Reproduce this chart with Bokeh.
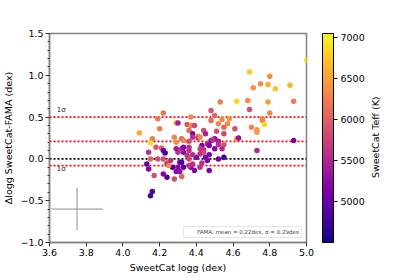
import math
from bokeh.plotting import figure
from bokeh.layouts import row
from bokeh.models import (ColumnDataSource, LinearColorMapper, ColorBar, FixedTicker,
                          Legend, LegendItem, Label, Range1d)
from bokeh.palettes import Plasma256
from bokeh.embed import file_html
from bokeh.resources import INLINE

# ---- data ----
logg = [5.00, 4.69, 4.80, 4.75, 4.79, 4.71, 4.83, 4.91, 4.53, 4.62, 4.68, 4.79, 4.93, 4.69, 4.80,
        4.48, 4.50, 4.22, 4.19, 4.20, 4.09, 4.37, 4.29, 4.30, 4.35, 4.37, 4.39, 4.36, 4.38, 4.41,
        4.44, 4.45, 4.48, 4.52, 4.54, 4.58, 4.57, 4.55, 4.51, 4.55, 4.61, 4.70, 4.73, 4.73, 4.76,
        4.76, 4.77, 4.62, 4.63, 4.93, 4.73, 4.16, 4.15, 4.14, 4.18, 4.21, 4.22, 4.23, 4.15, 4.19,
        4.22, 4.13, 4.14, 4.17, 4.24, 4.24, 4.22, 4.24, 4.28, 4.32, 4.16, 4.15, 4.28, 4.29, 4.32,
        4.33, 4.36, 4.38, 4.41, 4.42, 4.46, 4.48, 4.50, 4.52, 4.52, 4.55, 4.54, 4.50, 4.47, 4.43,
        4.44, 4.42, 4.40, 4.45, 4.47, 4.46, 4.52, 4.55, 4.47, 4.43, 4.42, 4.39, 4.37, 4.36, 4.33,
        4.31, 4.30, 4.27, 4.29, 4.31, 4.33, 4.30, 4.29, 4.32, 4.35, 4.36, 4.36, 4.38, 4.38, 4.32,
        4.26, 4.25, 4.36, 4.33, 4.43, 4.42, 4.44, 4.49]
dlogg = [1.18, 1.04, 0.99, 0.90, 0.89, 0.85, 0.84, 0.88, 0.68, 0.69, 0.70, 0.68, 0.69, 0.59, 0.55,
         0.58, 0.52, 0.55, 0.48, 0.36, 0.31, 0.50, 0.43, 0.43, 0.41, 0.40, 0.40, 0.34, 0.30, 0.27,
         0.34, 0.30, 0.46, 0.42, 0.47, 0.48, 0.42, 0.38, 0.33, 0.30, 0.36, 0.38, 0.35, 0.32, 0.48,
         0.46, 0.41, 0.24, 0.25, 0.22, 0.10, 0.24, 0.19, 0.08, 0.14, 0.13, 0.10, 0.07, 0.00, 0.00,
         0.00, -0.06, -0.12, -0.20, -0.04, -0.06, -0.18, -0.22, -0.24, -0.21, -0.39, -0.44, 0.26, 0.20, 0.24,
         0.22, 0.21, 0.26, 0.25, 0.26, 0.18, 0.22, 0.24, 0.21, 0.17, 0.17, 0.12, 0.12, 0.16, 0.16,
         0.11, 0.12, 0.02, 0.02, 0.05, -0.02, 0.00, 0.02, -0.14, -0.05, -0.10, -0.14, -0.10, -0.08, -0.10,
         -0.04, -0.10, -0.10, -0.15, -0.15, 0.08, 0.08, 0.12, 0.12, 0.04, 0.10, 0.00, 0.05, -0.06, -0.04,
         -0.02, -0.08, 0.14, 0.14, 0.10, 0.06, 0.08, 0.23]
teff = [6950, 6750, 6350, 6350, 6600, 6400, 6700, 6650, 6250, 6850, 6350, 6450, 6250, 5850, 6300,
        5900, 6050, 6200, 6200, 6250, 6550, 6300, 6600, 5400, 5900, 6300, 5800, 6100, 5200, 6350,
        5850, 5450, 6100, 6300, 6350, 6400, 6350, 6050, 5850, 5800, 5850, 6300, 6400, 6450, 6350,
        6300, 6850, 6450, 5300, 5100, 5500, 6250, 6900, 5600, 5900, 6050, 4950, 4750, 6050, 5850,
        5850, 4900, 5200, 5850, 6300, 5600, 5200, 4900, 5850, 6050, 4850, 4750, 6300, 6350, 6050,
        6300, 5850, 5600, 5600, 6350, 5600, 5200, 5200, 5400, 5600, 5900, 5500, 5200, 5150, 5150,
        5600, 5800, 5200, 5150, 5150, 5150, 5100, 4800, 5150, 5600, 5600, 5200, 5200, 5600, 4950,
        5150, 5200, 4800, 5200, 5300, 5200, 5600, 5400, 5600, 5600, 5600, 5800, 5600, 5600, 4800,
        5600, 6300, 5600, 5200, 5600, 5600, 5800, 5600]

mean_off = 0.21
sigma_off = 0.29
legend_text = "FAMA: mean = 0.22dex, \u03c3 = 0.29dex"
err_x, err_y = [3.75], [-0.60]
err_dx, err_dy = [0.14], [0.255]
xticks = [3.6, 3.8, 4.0, 4.2, 4.4, 4.6, 4.8, 5.0]
yticks = [-1.0, -0.5, 0.0, 0.5, 1.0, 1.5]
cticks = [5000, 5500, 6000, 6500, 7000]

FONT = "DejaVu Sans"
TOP, BOTTOM = 33, 27
FH = 209

p = figure(frame_width=257, frame_height=FH, output_backend="svg", toolbar_location=None,
           x_range=Range1d(3.6, 5.0), y_range=Range1d(-1.0, 1.5),
           min_border_left=44, min_border_top=TOP, min_border_bottom=BOTTOM, min_border_right=60)
p.background_fill_color = "white"
p.border_fill_color = "white"
p.grid.visible = False
p.outline_line_color = "#808080"
p.outline_line_width = 1.5

mapper = LinearColorMapper(palette=Plasma256, low=4500, high=7050)

# reference lines
for yv, col in [(mean_off + sigma_off, "#ff0000"), (mean_off, "#ff0000"),
                (0.0, "black"), (mean_off - sigma_off, "#ff0000")]:
    p.line([3.6, 5.0], [yv, yv], line_color=col, line_width=1.8, line_dash="2 2")

# error cross
p.segment(x0=[err_x[0] - err_dx[0]], y0=err_y, x1=[err_x[0] + err_dx[0]], y1=err_y,
          line_color="#909090", line_width=1)
p.segment(x0=err_x, y0=[err_y[0] - err_dy[0]], x1=err_x, y1=[err_y[0] + err_dy[0]],
          line_color="#909090", line_width=1)

src = ColumnDataSource(dict(x=logg, y=dlogg, t=teff))
p.scatter("x", "y", source=src, size=5.5, line_color=None,
          fill_color={"field": "t", "transform": mapper})

dummy = p.scatter([], [], size=5, fill_color="#1f77b4", line_color=None)
leg = Legend(items=[LegendItem(label=legend_text, renderers=[dummy])], location="bottom_right",
             label_text_font=FONT, label_text_font_size="5.5px", glyph_width=7, glyph_height=6,
             label_height=6, label_standoff=4, padding=2, spacing=0, margin=4,
             border_line_color="#cccccc", border_line_width=1, background_fill_alpha=1)
p.add_layout(leg)

for yv in [mean_off + sigma_off + 0.08, mean_off - sigma_off - 0.04]:
    p.add_layout(Label(x=3.64, y=yv, text="1\u03c3", text_font=FONT, text_font_size="7px",
                       text_color="#222222", text_baseline="middle"))

# axes
for ax in (p.xaxis[0], p.yaxis[0]):
    ax.axis_line_color = "#808080"
    ax.axis_line_width = 1.5
    ax.major_tick_line_color = "#333333"
    ax.minor_tick_line_color = "#333333"
    ax.major_tick_out = 4
    ax.major_tick_in = 0
    ax.minor_tick_out = 2
    ax.minor_tick_in = 0
    ax.major_label_text_font = FONT
    ax.major_label_text_font_size = "9.5px"
    ax.major_label_text_color = "black"
    ax.axis_label_text_font = FONT
    ax.axis_label_text_font_size = "9.5px"
    ax.axis_label_text_font_style = "normal"
    ax.axis_label_text_color = "black"
    ax.major_label_standoff = 2
    ax.axis_label_standoff = 3

p.xaxis[0].ticker = FixedTicker(ticks=xticks)
p.xaxis[0].major_label_overrides = {v: f"{v:.1f}" for v in xticks}
p.xaxis[0].minor_tick_line_color = None
p.xaxis[0].axis_label = "SweetCat logg (dex)"
p.yaxis[0].ticker = FixedTicker(ticks=yticks,
                                minor_ticks=[round(-1.0 + 0.1 * i, 2) for i in range(26)])
p.yaxis[0].major_label_overrides = {v: f"{v:.1f}".replace("-", "\u2212") for v in yticks}
p.yaxis[0].axis_label = "\u0394logg SweetCat-FAMA (dex)"

cb = ColorBar(color_mapper=mapper, ticker=FixedTicker(ticks=cticks), width=11, height=FH,
              padding=0, margin=0, bar_line_color="black", bar_line_width=1,
              major_tick_line_color="black", major_tick_in=0, major_tick_out=4,
              major_label_text_font=FONT, major_label_text_font_size="9.5px",
              major_label_text_color="black", label_standoff=3,
              background_fill_color=None, border_line_color=None,
              location=(16, 0))
p.add_layout(cb, "right")

# narrow companion figure holding the colour-bar title
H = TOP + FH + BOTTOM
p2 = figure(width=24, height=H, output_backend="svg", toolbar_location=None,
            x_range=Range1d(0, 1), y_range=Range1d(0, H),
            min_border_left=0, min_border_right=0, min_border_top=0, min_border_bottom=0)
p2.axis.visible = False
p2.grid.visible = False
p2.outline_line_color = None
p2.add_layout(Label(x=0.35, y=BOTTOM + FH / 2, text="SweetCat Teff (K)", angle=math.pi / 2,
                    text_font=FONT, text_font_size="9.5px", text_align="center",
                    text_baseline="middle", text_color="black"))

layout = row(p, p2, spacing=0)
open("out.html", "w").write(file_html(layout, INLINE))
